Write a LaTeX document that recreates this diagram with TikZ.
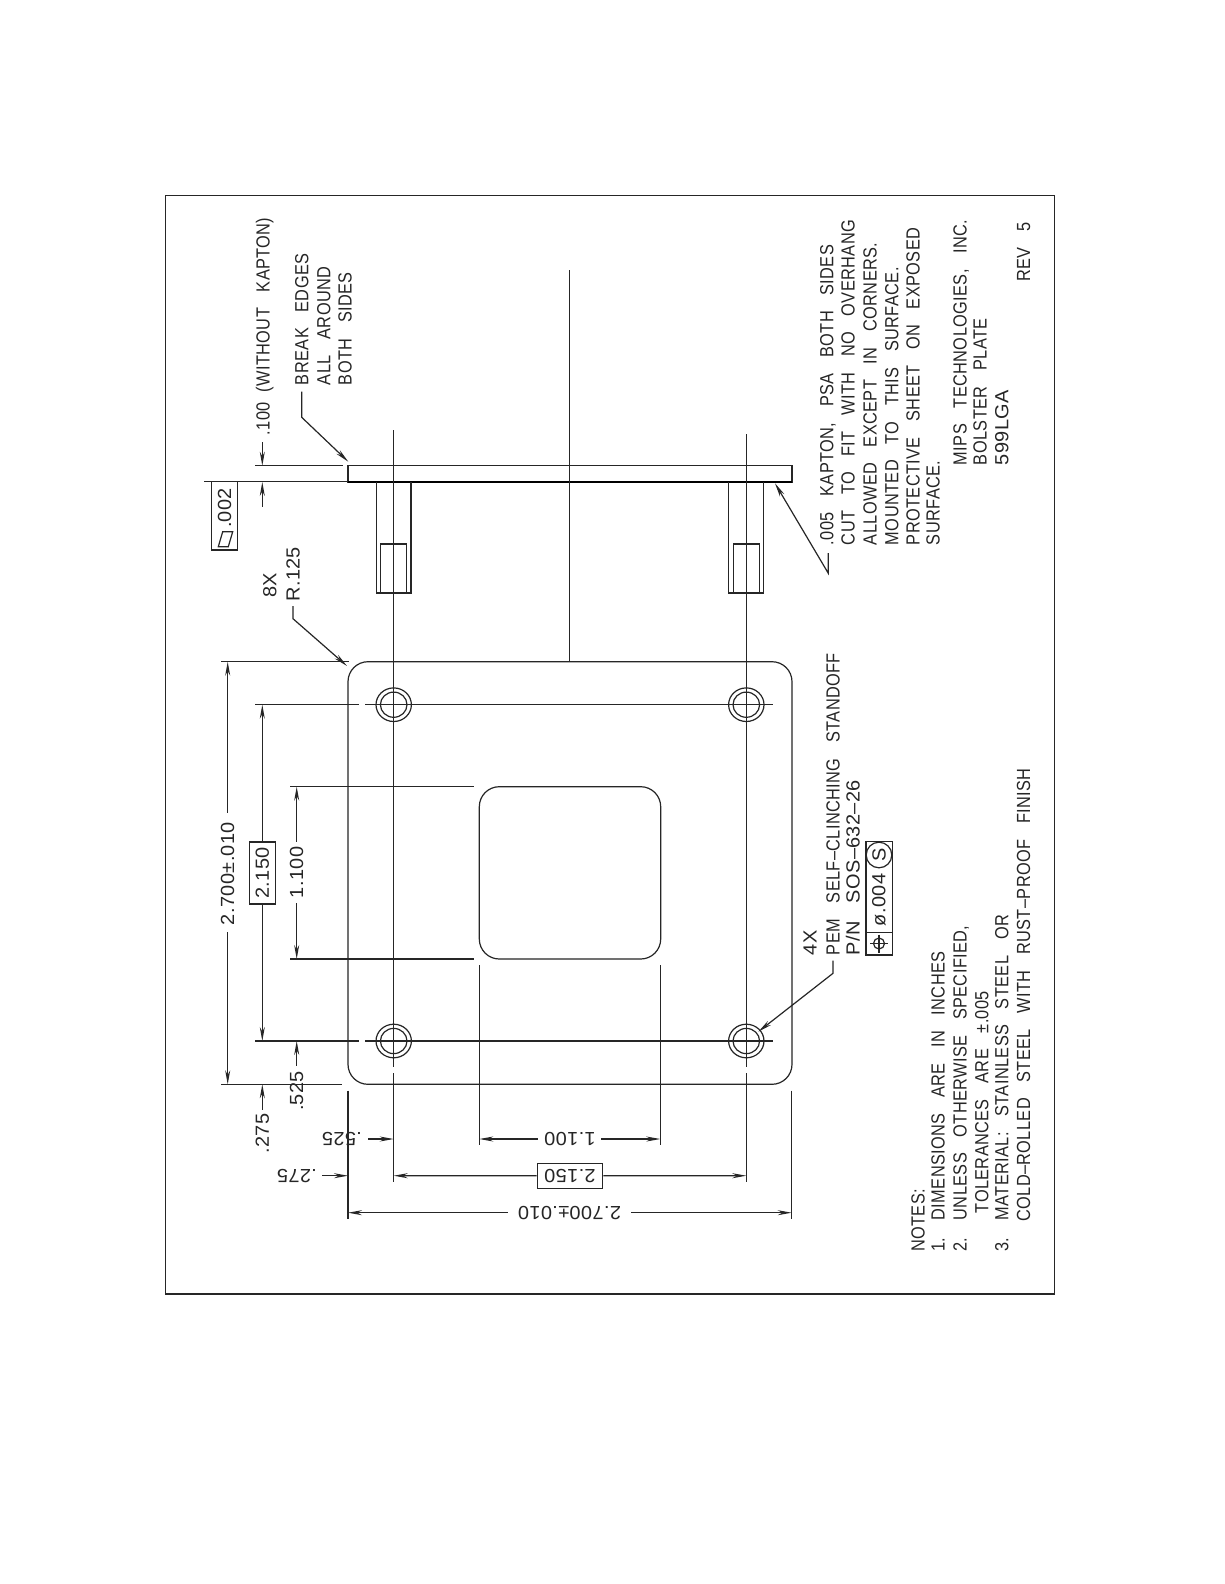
\documentclass[tikz,border=0pt]{standalone}
\usepackage{fontspec}
\setmainfont{Liberation Sans}[FakeStretch=0.86,WordSpace=3.2,LetterSpace=2]
\newfontfamily\dimfont{Liberation Sans}[FakeStretch=1.05,WordSpace=3,LetterSpace=2]
\usetikzlibrary{arrows.meta}
\tikzset{
 ln/.style={line width=1.2pt,draw=black!85},
 heavy/.style={line width=1.7pt,draw=black},
 dim/.style={ln,{Stealth[length=14pt,width=5pt]}-},
 lead/.style={ln,-{Stealth[length=14pt,width=5pt]}},
 vt/.style={rotate=90,anchor=base west,inner sep=0pt,outer sep=0pt,font=\fontsize{19}{20}\selectfont,text=black!85},
 vd/.style={rotate=90,anchor=base west,inner sep=0pt,outer sep=0pt,font=\dimfont\fontsize{19}{20}\selectfont,text=black!85},
 vc/.style={rotate=90,anchor=center,inner sep=0pt,outer sep=0pt,font=\dimfont\fontsize{19}{20}\selectfont,text=black!85},
 uc/.style={rotate=180,anchor=center,inner sep=0pt,outer sep=0pt,font=\dimfont\fontsize{19}{20}\selectfont,text=black!85},
 boxed/.style={draw=black!85,line width=1.2pt,anchor=center,inner sep=0pt,font=\dimfont\fontsize{19}{20}\selectfont,text=black!85},
}
\begin{document}
\begin{tikzpicture}[x=1pt,y=-1pt]
\useasboundingbox (0,0) rectangle (1224,1584);
\fill[white] (0,0) rectangle (1224,1584);
% frame
\draw[ln] (165.3,195.7) rectangle (1054.4,1294);
% side view plate
\draw[ln] (348,465.7) rectangle (792,482);
\draw[heavy] (348,482) -- (792,482);
% standoffs
\draw[ln] (376.3,482) -- (376.3,593) -- (411,593) -- (411,482);
\draw[ln] (380.7,593) -- (380.7,544) -- (406.7,544) -- (406.7,593);
\draw[ln] (728.3,482) -- (728.3,593) -- (763.7,593) -- (763.7,482);
\draw[ln] (733.3,593) -- (733.3,544) -- (759.3,544) -- (759.3,593);
% centre lines
\draw[ln] (393.7,430) -- (393.7,1066.7);
\draw[ln] (393.7,1073.3) -- (393.7,1182.3);
\draw[ln] (746.3,434) -- (746.3,1066.7);
\draw[ln] (746.3,1073.3) -- (746.3,1182.3);
\draw[ln] (569.7,270) -- (569.7,661.7);
% front plate
\draw[ln] (368,661.7) -- (772,661.7) arc[start angle=-90,end angle=0,x radius=20,y radius=20] -- (792,1064.3) arc[start angle=0,end angle=90,radius=20] -- (368,1084.3) arc[start angle=90,end angle=180,radius=20] -- (348,681.7) arc[start angle=180,end angle=270,radius=20] -- cycle;
% window
\draw[ln] (499.3,786.7) -- (640.7,786.7) arc[start angle=-90,end angle=0,radius=20] -- (660.7,939) arc[start angle=0,end angle=90,radius=20] -- (499.3,959) arc[start angle=90,end angle=180,radius=20] -- (479.3,806.7) arc[start angle=180,end angle=270,radius=20] -- cycle;
% holes
\foreach \hx/\hy in {393.7/704.7,746.3/704.7,393.7/1041,746.3/1041}{
 \draw[ln] (\hx,\hy) ellipse[x radius=17.7,y radius=16.8];
 \draw[ln] (\hx,\hy) ellipse[x radius=13.3,y radius=12.6];
}
% extension lines
\draw[ln] (221,661.7) -- (349,661.7);
\draw[ln] (255,704.7) -- (359.3,704.7);
\draw[ln] (365,704.7) -- (772.7,704.7);
\draw[ln] (290,786.7) -- (474,786.7);
\draw[ln] (290,959) -- (474,959);
\draw[ln] (255,1041) -- (359.3,1041);
\draw[ln] (365,1041) -- (772.7,1041);
\draw[ln] (221,1084.3) -- (342.3,1084.3);
\draw[ln] (348,1090.7) -- (348,1219.3);
\draw[ln] (791.7,1090.7) -- (791.7,1219.3);
\draw[ln] (479.3,965) -- (479.3,1145);
\draw[ln] (660.3,965) -- (660.3,1145);
\draw[ln] (255,465.7) -- (342.7,465.7);
\draw[ln] (204.3,481.7) -- (348,481.7);
% left dimension lines
\draw[dim] (227.7,661.7) -- (227.7,813.3);
\node[vc] (t2700) at (227.7,873.5) {2.700±.010};
\draw[dim] (227.7,1084.3) -- (227.7,931.7);
\node[boxed,rotate=90,minimum width=62pt,minimum height=26pt] (b2150) at (262.3,873) {2.150};
\draw[dim] (262.3,704.7) -- (b2150.east);
\draw[dim] (262.3,1041) -- (b2150.west);
\draw[dim] (296.7,786.7) -- (296.7,842.3);
\node[vc] (t1100) at (296.7,872.5) {1.100};
\draw[dim] (296.7,959) -- (296.7,902.7);
\draw[dim] (296.7,1041) -- (296.7,1066);
\node[vc] (t525a) at (296.7,1091) {.525};
\draw[dim] (262.3,1084.3) -- (262.3,1110);
\node[vc] (t275a) at (262.3,1133.5) {.275};
% bottom dimension lines
\node[uc] (t525b) at (342,1139) {.525};
\draw[dim] (393.7,1139) -- (367.7,1139);
\node[uc] (t275b) at (297,1175.7) {.275};
\draw[dim] (348,1175.7) -- (322.3,1175.7);
\node[uc] (t1100b) at (570,1139) {1.100};
\draw[dim] (479.3,1139) -- (538.3,1139);
\draw[dim] (660.3,1139) -- (600.7,1139);
\node[boxed,rotate=180,minimum width=65.4pt,minimum height=25pt] (b2150b) at (570,1175.8) {2.150};
\draw[dim] (393.7,1175.7) -- (b2150b.east);
\draw[dim] (746.3,1175.7) -- (b2150b.west);
\node[uc] (t2700b) at (569.5,1212.7) {2.700±.010};
\draw[dim] (348,1212.7) -- (508.3,1212.7);
\draw[dim] (791.7,1212.7) -- (630.7,1212.7);
% top dimension
\draw[dim] (262.3,465.7) -- (262.3,441.7);
\draw[dim] (262.3,482) -- (262.3,506.7);
\node[vt] (t100) at (269.5,435) {.100\hspace{-6pt} (WITHOUT KAPTON)};
% flatness box
\draw[ln] (211.7,481.7) rectangle (237.7,550);
\node[vc] (t002) at (224.7,508) {.002};
\draw[ln] (218.3,546.7) -- (222.7,531.7) -- (232.7,531.7) -- (228.3,546.7) -- cycle;
% leaders
\coordinate (l1a) at (301.7,391.7); \coordinate (l1b) at (301.7,417.3); \coordinate (l1c) at (348.3,461.7);
\draw[lead] (l1a) -- (l1b) -- (l1c);
\node[vt] (break1) at (308.4,385) {BREAK EDGES};
\node[vt] (break2) at (330.4,385) {ALL AROUND};
\node[vt] (break3) at (351.7,385) {BOTH SIDES};
\coordinate (l2a) at (293,606); \coordinate (l2b) at (293,618.7); \coordinate (l2c) at (347,666);
\draw[lead] (l2a) -- (l2b) -- (l2c);
\node[vd] (r8x) at (276.3,597.5) {8X};
\node[vd] (r125) at (299.7,601.7) {R.125};
\coordinate (l3a) at (833,960.7); \coordinate (l3b) at (833,973.3); \coordinate (l3c) at (758.3,1031.7);
\draw[lead] (l3a) -- (l3b) -- (l3c);
\node[vd] (p4x) at (816.7,955) {4X};
\node[vt] (pem) at (839.7,955) {PEM SELF–CLINCHING STANDOFF};
\node[vd] (pn) at (859.7,955) {P/N SOS–632–26};
% position box
\draw[ln] (866,841.7) rectangle (892.3,955);
\draw[ln] (866,932.7) -- (892.3,932.7);
\draw[ln] (879,943.5) circle[radius=5.5];
\draw[ln] (879,934.5) -- (879,952.5);
\draw[ln] (870,943.5) -- (888,943.5);
\draw[ln] (879,855) circle[radius=12.8];
\node[vc] (tol) at (879,900) {ø.004};
\node[vc] (tols) at (879,855) {S};
\coordinate (l4a) at (828.3,553); \coordinate (l4b) at (828.3,573.3); \coordinate (l4c) at (775,483.3);
\draw[lead] (l4a) -- (l4b) -- (l4c);
\node[vt] (k1) at (833.4,545) {.005 KAPTON, PSA BOTH SIDES};
\node[vt] (k2) at (854.7,545) {CUT TO FIT WITH NO OVERHANG};
\node[vt] (k3) at (876.7,545) {ALLOWED EXCEPT IN CORNERS.};
\node[vt] (k4) at (898.4,545) {MOUNTED TO THIS SURFACE.};
\node[vt] (k5) at (919.7,545) {PROTECTIVE SHEET ON EXPOSED};
\node[vt] (k6) at (939.7,545) {SURFACE.};
\node[vt] (m1) at (966.7,465) {MIPS TECHNOLOGIES, INC.};
\node[vt] (m2) at (986.7,465) {BOLSTER PLATE};
\node[vd] (m3) at (1008.4,465) {599LGA};
\node[vt] (m4) at (1030,281.7) {REV 5};
\node[vt] (n0) at (924.7,1251.7) {NOTES:};
\node[vt] (n1) at (944.7,1251.7) {1. DIMENSIONS ARE IN INCHES};
\node[vt] (n2) at (966.7,1251.7) {2. UNLESS OTHERWISE SPECIFIED,};
\node[vt] (n3) at (988.4,1213) {TOLERANCES ARE ±.005};
\node[vt] (n4) at (1008.4,1251.7) {3. MATERIAL: STAINLESS STEEL OR};
\node[vt] (n5) at (1030,1221.7) {COLD–ROLLED STEEL WITH RUST–PROOF FINISH};
\end{tikzpicture}
\end{document}
